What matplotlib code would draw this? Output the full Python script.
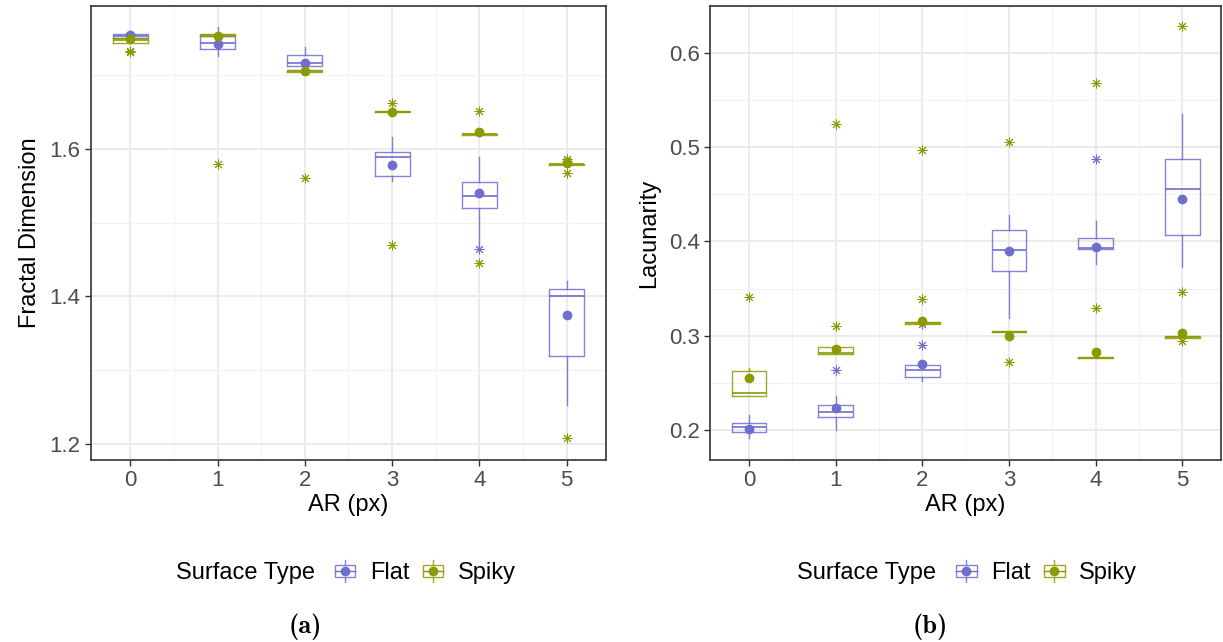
import os
import matplotlib
matplotlib.use("Agg")
import matplotlib.pyplot as plt
from matplotlib.lines import Line2D
from matplotlib.patches import Rectangle
from matplotlib.legend_handler import HandlerBase
from matplotlib.ticker import MultipleLocator
from matplotlib.font_manager import FontProperties

plt.rcParams['font.family'] = ['Liberation Sans', 'DejaVu Sans']

ar = [0, 1, 2, 3, 4, 5]
groups = ["Flat", "Spiky"]
colors = {"Flat": "#6E6ECF", "Spiky": "#8B9A00"}

# fractal dimension, per AR
fd_flat_q1 = [1.751, 1.7356, 1.712, 1.5634, 1.5195, 1.3197]
fd_flat_med = [1.753, 1.744, 1.716, 1.5888, 1.5367, 1.401]
fd_flat_q3 = [1.756, 1.7532, 1.7275, 1.5955, 1.5548, 1.410]
fd_flat_lo = [1.750, 1.7255, 1.711, 1.5566, 1.467, 1.2529]
fd_flat_hi = [1.757, 1.766, 1.739, 1.616, 1.5896, 1.4214]
fd_flat_mean = [1.7545, 1.742, 1.717, 1.578, 1.540, 1.375]
fd_flat_out = [[], [], [], [], [1.464], []]

fd_spiky_q1 = [1.744, 1.7535, 1.705, 1.6495, 1.6195, 1.5785]
fd_spiky_med = [1.748, 1.7545, 1.706, 1.650, 1.620, 1.579]
fd_spiky_q3 = [1.750, 1.7555, 1.7065, 1.651, 1.6205, 1.5795]
fd_spiky_mean = [1.749, 1.753, 1.706, 1.6506, 1.6235, 1.5805]
fd_spiky_out = [[1.733, 1.731], [1.579], [1.5607], [1.663, 1.470],
                [1.6515, 1.445], [1.586, 1.583, 1.567, 1.2077]]

# lacunarity, per AR
lac_flat_q1 = [0.1976, 0.2141, 0.2562, 0.3687, 0.3917, 0.4069]
lac_flat_med = [0.2025, 0.2194, 0.2637, 0.391, 0.3934, 0.4554]
lac_flat_q3 = [0.2071, 0.2262, 0.269, 0.4122, 0.404, 0.4872]
lac_flat_lo = [0.1912, 0.200, 0.252, 0.3185, 0.3758, 0.3733]
lac_flat_hi = [0.2159, 0.2361, 0.269, 0.4281, 0.4218, 0.535]
lac_flat_mean = [0.2014, 0.2237, 0.2697, 0.3903, 0.3938, 0.4454]
lac_flat_out = [[], [0.2637], [0.2905, 0.3125], [], [0.4872], []]

lac_spiky_q1 = [0.2364, 0.281, 0.3125, 0.304, 0.2765, 0.298]
lac_spiky_med = [0.2396, 0.282, 0.3132, 0.3043, 0.2767, 0.2983]
lac_spiky_q3 = [0.2623, 0.2877, 0.314, 0.305, 0.277, 0.2995]
lac_spiky_hi = [0.2655, 0.2877, 0.314, 0.305, 0.277, 0.2995]
lac_spiky_mean = [0.2552, 0.286, 0.3157, 0.300, 0.2824, 0.3032]
lac_spiky_out = [[0.3415], [0.3103, 0.5247], [0.3393, 0.497], [0.2718, 0.5056],
                 [0.329, 0.5678], [0.3461, 0.2948, 0.6287]]


def make_stats(q1, med, q3, lo, hi, mean, out):
    return [dict(q1=a, med=b, q3=c, whislo=d, whishi=e, mean=f, fliers=g)
            for a, b, c, d, e, f, g in zip(q1, med, q3, lo, hi, mean, out)]


def draw_boxes(ax, stats, col):
    line = dict(color=col, linewidth=1.0, alpha=0.85)
    ax.bxp(stats, positions=ar, widths=0.4, showcaps=False, showmeans=True,
           boxprops=line, whiskerprops=line, medianprops=dict(color=col, linewidth=1.2),
           meanprops=dict(marker='o', markerfacecolor=col, markeredgecolor=col,
                          markersize=6, zorder=5),
           flierprops=dict(marker=(8, 2, 0), markeredgecolor=col, markersize=7,
                           markeredgewidth=0.7, linestyle='none'),
           manage_ticks=False)


class BoxKey(HandlerBase):
    def create_artists(self, legend, orig_handle, xdescent, ydescent,
                       width, height, fontsize, trans):
        c = orig_handle.get_color()
        x0, y0 = -xdescent, -ydescent
        cx, cy = x0 + width / 2, y0 + height / 2
        bw, bh = width * 0.8, height * 0.7
        rect = Rectangle((cx - bw / 2, cy - bh / 2), bw, bh, facecolor='white',
                         edgecolor=c, linewidth=1.0, alpha=0.85, transform=trans)
        wh1 = Line2D([cx, cx], [cy + bh / 2, y0 + height * 1.15], color=c, lw=1.0, alpha=0.85, transform=trans)
        wh2 = Line2D([cx, cx], [cy - bh / 2, y0 - height * 0.15], color=c, lw=1.0, alpha=0.85, transform=trans)
        med = Line2D([cx - bw / 2, cx + bw / 2], [cy, cy], color=c, lw=1.0, transform=trans)
        dot = Line2D([cx], [cy], marker='o', markersize=6, color=c, transform=trans)
        return [rect, wh1, wh2, med, dot]


cap_font = FontProperties(fname=os.path.join(matplotlib.get_data_path(), 'fonts', 'ttf', 'cmb10.ttf'),
                          size=19)

fig = plt.figure(figsize=(12.23, 6.42), dpi=100)
ax1 = fig.add_axes([0.0744, 0.2835, 0.4211, 0.7072])
ax2 = fig.add_axes([0.5805, 0.2835, 0.4180, 0.7072])

draw_boxes(ax1, make_stats(fd_flat_q1, fd_flat_med, fd_flat_q3, fd_flat_lo,
                           fd_flat_hi, fd_flat_mean, fd_flat_out), colors["Flat"])
draw_boxes(ax1, make_stats(fd_spiky_q1, fd_spiky_med, fd_spiky_q3, fd_spiky_q1,
                           fd_spiky_q3, fd_spiky_mean, fd_spiky_out), colors["Spiky"])
draw_boxes(ax2, make_stats(lac_flat_q1, lac_flat_med, lac_flat_q3, lac_flat_lo,
                           lac_flat_hi, lac_flat_mean, lac_flat_out), colors["Flat"])
draw_boxes(ax2, make_stats(lac_spiky_q1, lac_spiky_med, lac_spiky_q3, lac_spiky_q1,
                           lac_spiky_hi, lac_spiky_mean, lac_spiky_out), colors["Spiky"])

ax1.set_ylim(1.178, 1.794)
ax1.yaxis.set_major_locator(MultipleLocator(0.2))
ax1.yaxis.set_minor_locator(MultipleLocator(0.1))
ax1.set_ylabel("Fractal Dimension", fontsize=17, labelpad=6)
ax2.set_ylim(0.168, 0.65)
ax2.yaxis.set_major_locator(MultipleLocator(0.1))
ax2.yaxis.set_minor_locator(MultipleLocator(0.05))
ax2.set_ylabel("Lacunarity", fontsize=17, labelpad=6)

# (axes, caption, caption x, legend title x, legend keys x) in figure fraction
panels = [(ax1, "(a)", 0.2494, 0.1439, 0.2715), (ax2, "(b)", 0.7604, 0.6517, 0.7795)]
for ax, cap, cx, tx, lx in panels:
    ax.set_xlim(-0.45, 5.45)
    ax.set_xticks(ar)
    ax.set_xticklabels([str(a) for a in ar])
    ax.xaxis.set_minor_locator(MultipleLocator(0.5))
    ax.set_xlabel("AR (px)", fontsize=17, labelpad=2)
    ax.grid(True, which='major', color='#EBEBEB', linewidth=1.5, zorder=0)
    ax.grid(True, which='minor', color='#F2F2F2', linewidth=0.8, zorder=0)
    ax.set_axisbelow(True)
    ax.tick_params(which='major', labelsize=16, labelcolor='#4D4D4D', color='#333333',
                   length=4, width=1)
    ax.tick_params(which='minor', length=0)
    for s in ax.spines.values():
        s.set_color('#333333')
        s.set_linewidth(1.2)

    handles = [Line2D([], [], color=colors[g]) for g in groups]
    ax.legend(handles, groups, handler_map={Line2D: BoxKey()},
              loc='center left', bbox_to_anchor=(lx, 0.107),
              bbox_transform=fig.transFigure, ncol=2, frameon=False,
              fontsize=17, handlelength=1.1, handleheight=0.7,
              handletextpad=0.5, columnspacing=0.45, borderaxespad=0, borderpad=0)
    fig.text(tx, 0.107, "Surface Type", fontsize=17, ha='left', va='center')
    fig.text(cx, 0.023, cap, fontproperties=cap_font, ha='center', va='center')

fig.savefig("out.png", dpi=100)
